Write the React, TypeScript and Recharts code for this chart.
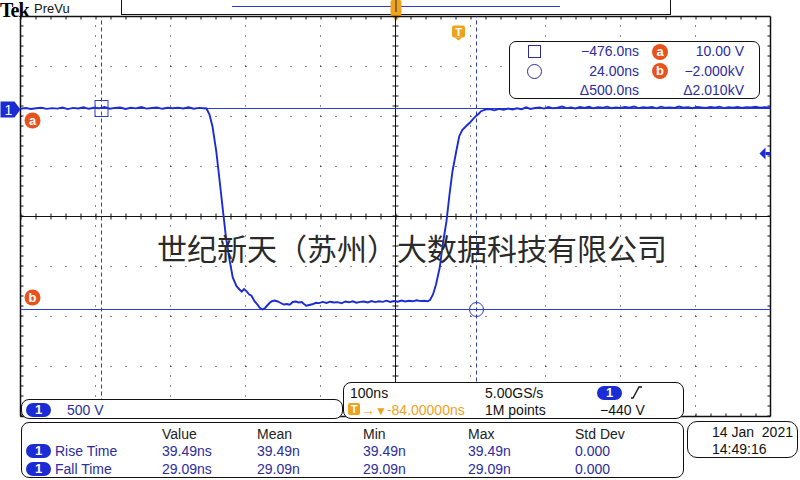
import React from 'react';
import { LineChart, Line, XAxis, YAxis, ReferenceLine, ReferenceDot } from 'recharts';

// 波形数据 [时间 ns, 电压 V]，100ns/div，500V/div
const preFall: [number, number][] = [
  [-584, 8], [-577, 15], [-570, 5], [-563, 12], [-556, 18], [-549, 6], [-542, 14], [-535, 9],
  [-528, 20], [-521, 4], [-514, 16], [-507, 10], [-500, 22], [-493, 7], [-486, 18], [-479, 12],
  [-472, 25], [-465, 8], [-458, 16], [-451, 20], [-444, 6], [-437, 18], [-430, 11], [-423, 24],
  [-416, 9], [-409, 15], [-402, 21], [-395, 7], [-388, 17], [-381, 12], [-374, 19], [-367, 10],
  [-360, 22], [-353, 8], [-346, 16], [-340, 12],
];

const fallEdge: [number, number][] = [
  [-336, 10], [-332, -50], [-328, -170], [-323, -417], [-319, -680], [-314, -1017],
  [-310, -1280], [-305, -1517], [-301, -1680], [-296, -1767], [-292, -1800],
];

const lowLevel: [number, number][] = [
  [-289, -1822], [-286, -1796], [-283, -1815], [-279, -1850], [-276, -1862], [-272, -1917],
  [-268, -1952], [-265, -1983], [-261, -2000], [-258, -1985], [-255, -1960], [-252, -1935],
  [-249, -1917], [-245, -1910], [-241, -1920], [-237, -1935], [-233, -1950], [-229, -1945],
  [-225, -1952], [-221, -1925], [-217, -1920], [-213, -1930], [-209, -1926], [-206, -1945],
  [-203, -1962], [-199, -1955], [-195, -1948], [-190, -1933], [-186, -1936], [-181, -1924],
  [-176, -1934], [-171, -1922], [-166, -1930], [-161, -1926], [-156, -1938], [-151, -1920],
  [-146, -1928], [-141, -1918], [-136, -1932], [-131, -1924], [-126, -1920], [-121, -1930],
  [-116, -1915], [-111, -1926], [-106, -1918], [-101, -1924], [-96, -1912], [-91, -1925],
  [-86, -1915], [-81, -1922], [-76, -1910], [-71, -1920], [-66, -1912], [-61, -1918],
  [-56, -1908], [-51, -1916], [-46, -1912], [-41, -1918],
];

const riseEdge: [number, number][] = [
  [-38, -1905], [-34, -1850], [-30, -1750], [-25, -1580], [-21, -1350], [-16, -1117],
  [-12, -850], [-8, -617], [-3, -417], [1, -267], [5, -205], [8, -183], [11, -160],
  [15, -133], [19, -98], [23, -67], [27, -42], [30, -17], [34, -6], [37, 2],
];

const postRise: [number, number][] = [
  [42, 4], [48, -8], [54, 6], [60, -3], [66, 10], [72, 0], [78, 12], [84, 2], [90, 22], [96, 6],
  [102, 15], [108, 20], [114, 9], [120, 25], [126, 12], [132, 18], [138, 30], [144, 14], [150, 20],
  [156, 10], [162, 24], [168, 16], [174, 27], [180, 12], [186, 22], [192, 17], [198, 28], [204, 13],
  [210, 21], [216, 15], [222, 26], [228, 18], [234, 30], [240, 14], [246, 22], [252, 19], [258, 25],
  [264, 12], [270, 28], [276, 17], [282, 21], [288, 15], [294, 30], [300, 18], [306, 24], [312, 13],
  [318, 26], [324, 20], [330, 16], [336, 25], [342, 19], [348, 28], [354, 14], [360, 22], [366, 18],
  [372, 26], [378, 15], [384, 23], [390, 20], [396, 27], [402, 17], [408, 22], [416, 19],
];

// 坐标范围与网格
const timeDomain: [number, number] = [-584, 416];
const voltDomain: [number, number] = [-3070, 930];
const gridTimes = [-484, -384, -284, -184, 16, 116, 216, 316];
const gridVolts = [430, -70, -570, -1570, -2070, -2570];
const centerTime = -84;
const centerVolt = -1070;

// 光标、触发
const cursorTimes = [-476, 24];
const cursorVolts = [10, -2000];
const triggerLevel = -440;
const triggerTime = 0;
const groundLevel = 0;

// 文字
const cursorReadout = [
  ['−476.0ns', '10.00 V'],
  ['24.00ns', '−2.000kV'],
  ['Δ500.0ns', 'Δ2.010kV'],
];
const measureHeaders = ['Value', 'Mean', 'Min', 'Max', 'Std Dev'];
const riseTimeVals = ['39.49ns', '39.49n', '39.49n', '39.49n', '0.000'];
const fallTimeVals = ['29.09ns', '29.09n', '29.09n', '29.09n', '0.000'];
const watermark = '世纪新天（苏州）大数据科技有限公司';

const trace = [...preFall, ...fallEdge, ...lowLevel, ...riseEdge, ...postRise].map(([t, v]) => ({ t, v }));

const FONT = '"Liberation Sans", Arial, sans-serif';
const BLUE = '#1b2cd4';
const CURSOR = '#2a3bc8';
const NAVY = '#2c2c9c';
const ORANGE = '#e8521c';
const AMBER = '#eea21e';
const measureX = [162, 257, 363, 468, 575];

const Txt = ({ x, y, children, color = '#111', size = 14, right = false, style = {} }: any) => (
  <div
    style={{
      position: 'absolute',
      top: y - 9,
      ...(right ? { right: 800 - x } : { left: x }),
      lineHeight: '18px',
      fontSize: size,
      color,
      whiteSpace: 'pre',
      fontFamily: FONT,
      ...style,
    }}
  >
    {children}
  </div>
);

const Box = ({ x, y, w, h, r = 8 }: any) => (
  <div
    style={{
      position: 'absolute', left: x, top: y, width: w, height: h,
      border: '1.5px solid #111', borderRadius: r, background: '#fff', boxSizing: 'border-box',
    }}
  />
);

const Pill = ({ x, y }: any) => (
  <div
    style={{
      position: 'absolute', left: x, top: y - 7, width: 25, height: 14, borderRadius: 7,
      background: BLUE, color: '#fff', fontSize: 13, lineHeight: '14px', textAlign: 'center',
      fontFamily: FONT, fontWeight: 'bold',
    }}
  >
    1
  </div>
);

const Letter = ({ x, y, ch }: any) => (
  <div
    style={{
      position: 'absolute', left: x - 8, top: y - 8, width: 16, height: 16, borderRadius: 8,
      background: ORANGE, color: '#fff', fontSize: 13, lineHeight: '15px', textAlign: 'center',
      fontFamily: FONT, fontWeight: 'bold',
    }}
  >
    {ch}
  </div>
);

// 图上的标记形状
const ChannelMarker = ({ cx, cy }: any) => (
  <g>
    <path d={`M${cx - 20},${cy - 8} L${cx - 6},${cy - 8} L${cx},${cy} L${cx - 6},${cy + 8} L${cx - 20},${cy + 8} Z`} fill={BLUE} />
    <text x={cx - 12} y={cy + 5} fill="#fff" fontSize={14} textAnchor="middle" fontFamily={FONT}>1</text>
  </g>
);

const LetterMarker = ({ cx, cy, dy, ch }: any) => (
  <g>
    <circle cx={cx + 12} cy={cy + dy} r={8} fill={ORANGE} />
    <text x={cx + 12} y={cy + dy + 4.5} fill="#fff" fontSize={13} fontWeight="bold" textAnchor="middle" fontFamily={FONT}>{ch}</text>
  </g>
);

const TrigLevelArrow = ({ cx, cy }: any) => (
  <g fill={BLUE}>
    <path d={`M${cx - 11},${cy} L${cx - 5},${cy - 6} L${cx - 5},${cy + 6} Z`} />
    <rect x={cx - 5} y={cy - 1.5} width={5} height={3} />
  </g>
);

const TrigTimeMarker = ({ cx, cy }: any) => (
  <g>
    <rect x={cx - 6.5} y={cy + 9} width={13} height={12} rx={2} fill={AMBER} />
    <path d={`M${cx - 4},${cy + 21} L${cx + 4},${cy + 21} L${cx},${cy + 24} Z`} fill={AMBER} />
    <text x={cx} y={cy + 19.5} fill="#fff" fontSize={11} fontWeight="bold" textAnchor="middle" fontFamily={FONT}>T</text>
  </g>
);

const SquareMarker = ({ cx, cy }: any) => (
  <rect x={cx - 6.5} y={cy - 8} width={13} height={16} fill="none" stroke={CURSOR} strokeWidth={1} />
);

const CircleMarker = ({ cx, cy }: any) => (
  <circle cx={cx} cy={cy} r={7} fill="none" stroke={CURSOR} strokeWidth={1} />
);

export default function App() {
  return (
    <div style={{ position: 'absolute', left: 0, top: 0, width: 800, height: 480, background: '#fff', overflow: 'hidden', fontFamily: FONT }}>
      {/* 顶部栏 */}
      <div style={{ position: 'absolute', left: 0, top: 0, lineHeight: '20px', fontFamily: '"Liberation Serif", serif', fontWeight: 'bold', fontSize: 20, color: '#000', letterSpacing: -1 }}>Tek</div>
      <Txt x={34} y={9} size={13} color="#111">PreVu</Txt>
      <div style={{ position: 'absolute', left: 121, top: -2, width: 550, height: 17, border: '1.5px solid #111', boxSizing: 'border-box', background: '#fff' }} />
      <div style={{ position: 'absolute', left: 232, top: 6, width: 328, height: 1, background: CURSOR }} />
      <svg style={{ position: 'absolute', left: 0, top: 0 }} width={800} height={24}>
        <rect x={390.5} y={0} width={11} height={16} rx={2} fill={AMBER} />
        <path d="M391,15 L401,15 L396,21 Z" fill={AMBER} />
        <line x1={396} y1={0} x2={396} y2={12} stroke="#333" strokeWidth={1} />
      </svg>

      <LineChart width={800} height={480} data={trace} margin={{ top: 16.5, right: 29.5, bottom: 63.5, left: 20.5 }}>
        <XAxis type="number" dataKey="t" domain={timeDomain} hide allowDataOverflow />
        <YAxis type="number" domain={voltDomain} hide allowDataOverflow />

        {gridTimes.map((t) => (
          <ReferenceLine key={`gx${t}`} x={t} stroke="#111" strokeWidth={1} strokeDasharray="1 9" />
        ))}
        {gridVolts.map((v) => (
          <ReferenceLine key={`gy${v}`} y={v} stroke="#111" strokeWidth={1} strokeDasharray="1 14" />
        ))}

        <ReferenceLine x={centerTime} stroke="#111" strokeWidth={1} />
        <ReferenceLine x={centerTime} stroke="#111" strokeWidth={6} strokeDasharray="1 9" />
        <ReferenceLine y={centerVolt} stroke="#111" strokeWidth={1} />
        <ReferenceLine y={centerVolt} stroke="#111" strokeWidth={6} strokeDasharray="1 14" />

        {/* 边框 */}
        <ReferenceLine x={timeDomain[0]} stroke="#111" strokeWidth={1.5} />
        <ReferenceLine x={timeDomain[1]} stroke="#111" strokeWidth={1.5} />
        <ReferenceLine y={voltDomain[1]} stroke="#111" strokeWidth={1.5} />
        <ReferenceLine y={voltDomain[0]} stroke="#111" strokeWidth={1.5} />
        <ReferenceLine x={timeDomain[0] + 2} stroke="#111" strokeWidth={3} strokeDasharray="1 9" />
        <ReferenceLine x={timeDomain[1] - 2} stroke="#111" strokeWidth={3} strokeDasharray="1 9" />
        <ReferenceLine y={voltDomain[1] - 15} stroke="#111" strokeWidth={3} strokeDasharray="1 14" />
        <ReferenceLine y={voltDomain[0] + 15} stroke="#111" strokeWidth={3} strokeDasharray="1 14" />

        {/* 光标 */}
        {cursorVolts.map((v) => (
          <ReferenceLine key={`cv${v}`} y={v} stroke={CURSOR} strokeWidth={1} />
        ))}
        {cursorTimes.map((t) => (
          <ReferenceLine key={`ct${t}`} x={t} stroke={CURSOR} strokeWidth={1} strokeDasharray="4 3" />
        ))}

        <Line type="linear" dataKey="v" stroke={BLUE} strokeWidth={1.9} dot={false} isAnimationActive={false} />

        <ReferenceDot x={cursorTimes[0]} y={cursorVolts[0]} shape={(p: any) => <SquareMarker cx={p.cx} cy={p.cy} />} />
        <ReferenceDot x={cursorTimes[1]} y={cursorVolts[1]} shape={(p: any) => <CircleMarker cx={p.cx} cy={p.cy} />} />
        <ReferenceDot x={timeDomain[0]} y={groundLevel} shape={(p: any) => <ChannelMarker cx={p.cx} cy={p.cy} />} />
        <ReferenceDot x={timeDomain[0]} y={cursorVolts[0]} shape={(p: any) => <LetterMarker cx={p.cx} cy={p.cy} dy={12} ch="a" />} />
        <ReferenceDot x={timeDomain[0]} y={cursorVolts[1]} shape={(p: any) => <LetterMarker cx={p.cx} cy={p.cy} dy={-12} ch="b" />} />
        <ReferenceDot x={timeDomain[1]} y={triggerLevel} shape={(p: any) => <TrigLevelArrow cx={p.cx} cy={p.cy} />} />
        <ReferenceDot x={triggerTime} y={voltDomain[1]} shape={(p: any) => <TrigTimeMarker cx={p.cx} cy={p.cy} />} />
      </LineChart>

      {/* 光标读数 */}
      <Box x={509} y={41} w={251} h={58} r={7} />
      <div style={{ position: 'absolute', left: 528, top: 45, width: 13, height: 13, border: `1px solid ${NAVY}`, boxSizing: 'border-box' }} />
      <div style={{ position: 'absolute', left: 527, top: 64, width: 15, height: 15, border: `1px solid ${NAVY}`, borderRadius: 8, boxSizing: 'border-box' }} />
      {cursorReadout.map((row, i) => (
        <React.Fragment key={i}>
          <Txt x={639} y={51 + i * 19.5} color={NAVY} right>{row[0]}</Txt>
          <Txt x={744} y={51 + i * 19.5} color={NAVY} right>{row[1]}</Txt>
        </React.Fragment>
      ))}
      <Letter x={660} y={52} ch="a" />
      <Letter x={660} y={71} ch="b" />

      {/* 水印 */}
      <div style={{ position: 'absolute', left: 157, top: 232, fontSize: 30, lineHeight: '30px', color: '#2a2a2a', fontFamily: '"Noto Sans CJK SC", sans-serif', whiteSpace: 'nowrap' }}>
        {watermark}
      </div>

      {/* 底部信息 */}
      <Box x={21} y={399} w={322} h={20} r={8} />
      <Pill x={26} y={410} />
      <Txt x={67} y={410} color={NAVY}>500 V</Txt>

      <Box x={343} y={382} w={341} h={37} r={8} />
      <Txt x={350} y={393}>100ns</Txt>
      <Txt x={485} y={393}>5.00GS/s</Txt>
      <Pill x={597} y={393} />
      <svg style={{ position: 'absolute', left: 628, top: 385 }} width={18} height={16}>
        <path d="M3,13 L5,13 L11,2 L14,2" fill="none" stroke="#111" strokeWidth={1.3} />
      </svg>
      <div style={{ position: 'absolute', left: 348, top: 403, width: 12, height: 12, borderRadius: 2, background: AMBER, color: '#fff', fontSize: 11, lineHeight: '12px', textAlign: 'center', fontWeight: 'bold', fontFamily: FONT }}>T</div>
      <Txt x={361} y={410} color={AMBER}>
        <span style={{ fontWeight: 'bold' }}>→</span>
        <span style={{ fontSize: 12 }}>▼</span>
        -84.00000ns
      </Txt>
      <Txt x={485} y={410}>1M points</Txt>
      <Txt x={600} y={410}>−440 V</Txt>

      <Box x={21} y={422} w={663} h={56} r={8} />
      {measureHeaders.map((h, i) => (
        <Txt key={h} x={measureX[i]} y={434} color="#222">{h}</Txt>
      ))}
      <Pill x={26} y={451} />
      <Txt x={55} y={451} color={NAVY}>Rise Time</Txt>
      {riseTimeVals.map((v, i) => (
        <Txt key={`r${i}`} x={measureX[i]} y={451} color={NAVY}>{v}</Txt>
      ))}
      <Pill x={26} y={469} />
      <Txt x={55} y={469} color={NAVY}>Fall Time</Txt>
      {fallTimeVals.map((v, i) => (
        <Txt key={`f${i}`} x={measureX[i]} y={469} color={NAVY}>{v}</Txt>
      ))}

      <Box x={687} y={421} w={111} h={37} r={10} />
      <Txt x={712} y={432} color="#111">{'14 Jan  2021'}</Txt>
      <Txt x={712} y={449} color="#111">14:49:16</Txt>
    </div>
  );
}
